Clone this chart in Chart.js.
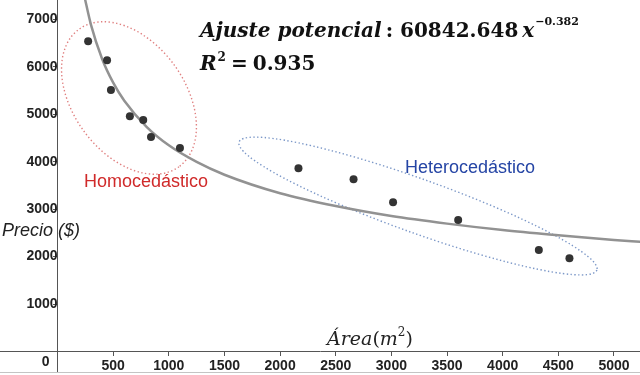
<!DOCTYPE html>
<html>
<head>
<meta charset="utf-8">
<script src="https://cdn.jsdelivr.net/npm/chart.js@4"></script>
<style>
  body { margin: 0; background: #fff; }
  #wrap { width: 640px; height: 372px; border-bottom: 1px solid #c4c4c4; }
</style>
</head>
<body>
<div id="wrap"><canvas id="myChart" width="640" height="372"></canvas></div>
<script>
// Data
const homoArea = [275, 445, 480, 650, 770, 840, 1100];
const homoPrice = [6540, 6140, 5510, 4960, 4880, 4520, 4290];
const heteroArea = [2165, 2660, 3015, 3600, 4325, 4600];
const heteroPrice = [3860, 3630, 3145, 2770, 2140, 1965];

// fitted power curve
const fitArea = [240, 300, 400, 500, 600, 800, 1000, 1250, 1500, 2000, 2500, 3000, 3500, 4000, 4500, 5000, 5240];
const fitPrice = [7500, 6890, 6170, 5665, 5285, 4735, 4345, 3995, 3725, 3335, 3065, 2855, 2695, 2560, 2450, 2350, 2310];

const xTicks = [500, 1000, 1500, 2000, 2500, 3000, 3500, 4000, 4500, 5000];
const yTicks = [1000, 2000, 3000, 4000, 5000, 6000, 7000];

function toPoints(xs, ys) {
    return xs.map((x, i) => ({ x: x, y: ys[i] }));
}

// dotted ellipses around the two groups (center in data units, radii in px)
const groupEllipses = [
    { cx: 642, cy: 5343, rx: 85, ry: 56, rot: 54, color: '#e08080' },
    { cx: 3239, cy: 3066, rx: 190, ry: 27, rot: 19.7, color: '#7c98c8' }
];

const ellipsePlugin = {
    id: 'ellipses',
    beforeDatasetsDraw(chart) {
        const ctx = chart.ctx;
        const xs = chart.scales.x, ys = chart.scales.y;
        groupEllipses.forEach(e => {
            ctx.save();
            ctx.beginPath();
            ctx.ellipse(xs.getPixelForValue(e.cx), ys.getPixelForValue(e.cy), e.rx, e.ry, e.rot * Math.PI / 180, 0, Math.PI * 2);
            ctx.strokeStyle = e.color;
            ctx.lineWidth = 1.4;
            ctx.setLineDash([1.4, 2.4]);
            ctx.stroke();
            ctx.restore();
        });
    }
};

// draw a run of text pieces one after the other
function drawRun(ctx, x, y, parts) {
    parts.forEach(p => {
        ctx.font = p.font;
        ctx.fillText(p.text, x, y + (p.dy || 0));
        x += ctx.measureText(p.text).width + (p.gap || 0);
    });
}

const textPlugin = {
    id: 'texts',
    afterDraw(chart) {
        const ctx = chart.ctx;
        const xs = chart.scales.x, ys = chart.scales.y;
        ctx.save();
        ctx.textBaseline = 'alphabetic';
        ctx.textAlign = 'left';
        ctx.fillStyle = '#111';

        const bi = 'italic bold 20px "DejaVu Serif"';
        const b = 'bold 20px "DejaVu Serif"';
        const sup = 'bold 11px "DejaVu Serif"';
        drawRun(ctx, 200, 37, [
            { text: 'Ajuste potencial', font: bi, gap: 4 },
            { text: ':', font: b, gap: 7 },
            { text: '60842.648', font: b, gap: 4 },
            { text: 'x', font: bi, gap: 1 },
            { text: '\u22120.382', font: sup, dy: -12 }
        ]);
        drawRun(ctx, 200, 70, [
            { text: 'R', font: bi, gap: 1 },
            { text: '2', font: 'bold 12px "DejaVu Serif"', dy: -9, gap: 5 },
            { text: '=', font: b, gap: 5 },
            { text: '0.935', font: b }
        ]);

        // axis titles
        ctx.fillStyle = '#222';
        const it = 'italic 19px "DejaVu Serif"';
        const up = '19px "DejaVu Serif"';
        drawRun(ctx, 327, 345, [
            { text: '\u00c1rea', font: it },
            { text: '(', font: up },
            { text: 'm', font: it },
            { text: '2', font: '12px "DejaVu Serif"', dy: -9 },
            { text: ')', font: up }
        ]);
        ctx.font = 'italic 18px "Liberation Sans"';
        ctx.textBaseline = 'middle';
        ctx.fillText('Precio ($)', 2, 231);

        // group labels
        ctx.font = '18px "Liberation Sans"';
        ctx.fillStyle = '#d02a2a';
        ctx.fillText('Homocedástico', 84, 182);
        ctx.fillStyle = '#2545a5';
        ctx.fillText('Heterocedástico', 405, 168);

        // origin label
        ctx.fillStyle = '#222';
        ctx.font = 'bold 14px "Liberation Sans"';
        ctx.textAlign = 'center';
        ctx.fillText('0', xs.getPixelForValue(0) - 12, ys.getPixelForValue(0) + 11);
        ctx.restore();
    }
};

// axes sit inside the plot, so they must not take any layout space
function noSpace(s) {
    if (s.isHorizontal()) s.height = 0; else s.width = 0;
    s.paddingLeft = 0;
    s.paddingRight = 0;
    s.paddingTop = 0;
    s.paddingBottom = 0;
}

const tickFont = { family: 'Liberation Sans', size: 14, weight: 'bold' };

const ctx = document.getElementById('myChart').getContext('2d');
const myChart = new Chart(ctx, {
    type: 'scatter',
    data: {
        datasets: [
            {
                label: 'Homocedástico',
                data: toPoints(homoArea, homoPrice),
                backgroundColor: '#333333',
                borderColor: '#333333',
                pointRadius: 4,
                borderWidth: 0
            },
            {
                label: 'Heterocedástico',
                data: toPoints(heteroArea, heteroPrice),
                backgroundColor: '#333333',
                borderColor: '#333333',
                pointRadius: 4,
                borderWidth: 0
            },
            {
                label: 'Ajuste potencial',
                data: toPoints(fitArea, fitPrice),
                showLine: true,
                borderColor: '#929292',
                borderWidth: 2.5,
                pointRadius: 0,
                cubicInterpolationMode: 'monotone'
            }
        ]
    },
    options: {
        responsive: false,
        animation: false,
        layout: { padding: 0, autoPadding: false },
        plugins: {
            legend: { display: false },
            tooltip: { enabled: false }
        },
        scales: {
            x: {
                type: 'linear',
                min: -517,
                max: 5234,
                position: { y: 0 },
                afterFit: noSpace,
                afterBuildTicks: s => { s.ticks = xTicks.map(v => ({ value: v })); },
                grid: { drawOnChartArea: false, drawTicks: true, tickLength: 4, color: '#555' },
                border: { color: '#555', width: 1 },
                ticks: {
                    color: '#222',
                    font: tickFont,
                    padding: 2,
                    maxRotation: 0,
                    autoSkip: false,
                    callback: v => String(v)
                }
            },
            y: {
                type: 'linear',
                min: -432,
                max: 7408,
                position: { x: 0 },
                afterFit: noSpace,
                afterBuildTicks: s => { s.ticks = yTicks.map(v => ({ value: v })); },
                grid: { drawOnChartArea: false, drawTicks: true, tickLength: 4, color: '#555' },
                border: { color: '#555', width: 1 },
                ticks: {
                    color: '#222',
                    font: tickFont,
                    padding: 4,
                    autoSkip: false,
                    callback: v => String(v)
                }
            }
        }
    },
    plugins: [ellipsePlugin, textPlugin]
});
</script>
</body>
</html>
